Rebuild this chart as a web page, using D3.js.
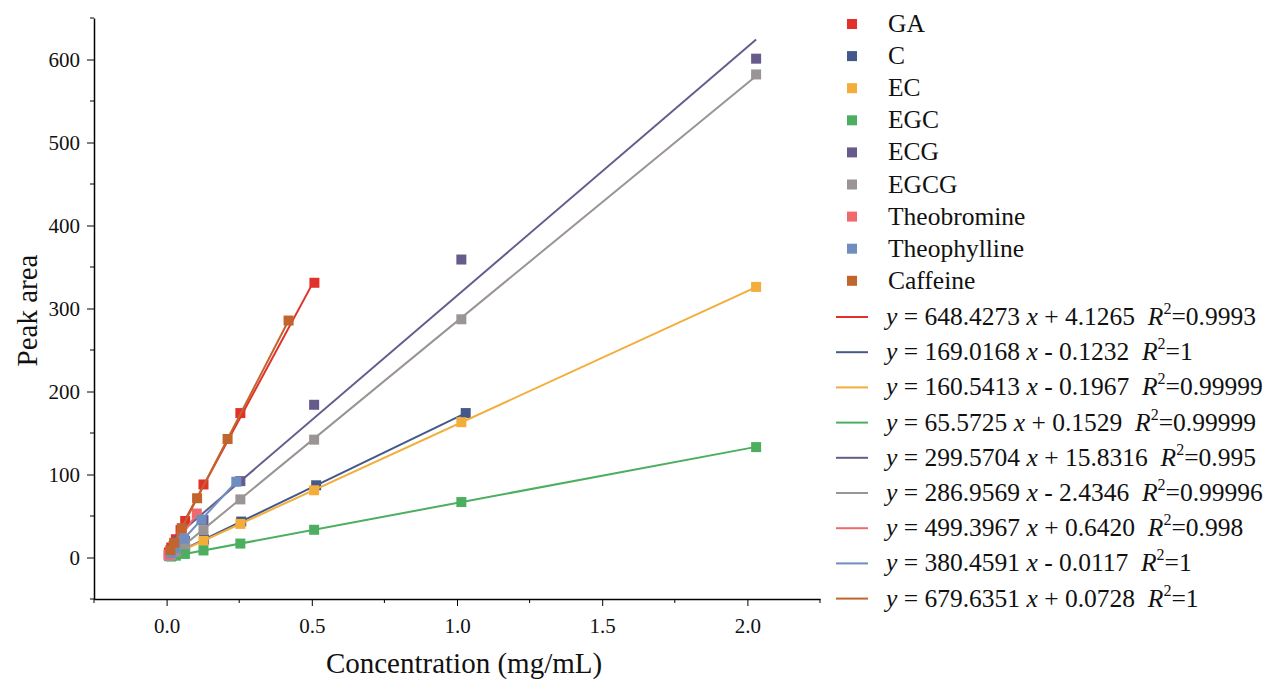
<!DOCTYPE html>
<html>
<head>
<meta charset="utf-8">
<script src="https://cdn.jsdelivr.net/npm/d3@7/dist/d3.min.js"></script>
<style>
  html, body { margin: 0; padding: 0; background: #fff; }
  svg { display: block; }
  text { font-family: "Liberation Serif", "Times New Roman", serif; fill: #111; }
</style>
</head>
<body>
<svg id="chart" width="1269" height="684"></svg>
<script>
// ---- data ----
const seriesNames = ["GA", "C", "EC", "EGC", "ECG", "EGCG", "Theobromine", "Theophylline", "Caffeine"];
const seriesColors = ["#e2302b", "#44598a", "#f2ad3a", "#4caf5f", "#675b8c", "#9b9494", "#ee6a6c", "#6f8ebf", "#c1652c"];

const xGA   = [0.008, 0.016, 0.032, 0.048, 0.064, 0.127, 0.254, 0.509];
const yGA   = [6, 12, 22, 33, 44, 88, 174, 331];
const xC    = [0.016, 0.032, 0.064, 0.129, 0.257, 0.515, 1.03];
const yC    = [2.6, 5.3, 10.7, 21.6, 43.3, 87, 174];
const xEC   = [0.016, 0.032, 0.063, 0.127, 0.254, 0.508, 1.015, 2.03];
const yEC   = [2.4, 5, 10, 20, 40.5, 81, 163, 326];
const xEGC  = [0.016, 0.032, 0.063, 0.127, 0.254, 0.508, 1.015, 2.03];
const yEGC  = [1.2, 2.2, 4.3, 8.5, 16.8, 33.4, 66.8, 133];
const xECG  = [0.008, 0.016, 0.032, 0.063, 0.127, 0.254, 0.508, 1.015, 2.03];
const yECG  = [2, 4, 10, 20, 45, 92, 184, 359, 601];
const xEGCG = [0.008, 0.016, 0.032, 0.063, 0.127, 0.254, 0.508, 1.015, 2.03];
const yEGCG = [1.5, 3, 7, 16, 33, 70, 142, 287, 582];
const xTB   = [0.0065, 0.013, 0.026, 0.052, 0.104];
const yTB   = [3.5, 7, 13.5, 26.5, 53];
const xTP   = [0.015, 0.03, 0.06, 0.12, 0.24];
const yTP   = [5.7, 11.4, 22.8, 45.6, 91.3];
const xCAF  = [0.013, 0.026, 0.052, 0.105, 0.21, 0.42];
const yCAF  = [9, 17.7, 35.4, 71.4, 142.8, 285.5];

const slopes     = [648.4273, 169.0168, 160.5413, 65.5725, 299.5704, 286.9569, 499.3967, 380.4591, 679.6351];
const intercepts = [4.1265, -0.1232, -0.1967, 0.1529, 15.8316, -2.4346, 0.6420, -0.0117, 0.0728];
const slopeText  = ["648.4273", "169.0168", "160.5413", "65.5725", "299.5704", "286.9569", "499.3967", "380.4591", "679.6351"];
const interText  = ["+ 4.1265", "- 0.1232", "- 0.1967", "+ 0.1529", "+ 15.8316", "- 2.4346", "+ 0.6420", "- 0.0117", "+ 0.0728"];
const r2Text     = ["0.9993", "1", "0.99999", "0.99999", "0.995", "0.99996", "0.998", "1", "1"];

const xTicks = [0.0, 0.5, 1.0, 1.5, 2.0];
const yTicks = [0, 100, 200, 300, 400, 500, 600];

const xsAll = [xGA, xC, xEC, xEGC, xECG, xEGCG, xTB, xTP, xCAF];
const ysAll = [yGA, yC, yEC, yEGC, yECG, yEGCG, yTB, yTP, yCAF];

// ---- chart ----
const svg = d3.select("#chart");
const x = d3.scaleLinear().domain([-0.25, 2.25]).range([94, 820]);
const y = d3.scaleLinear().domain([-50, 650]).range([599, 18]);

// axes
const xAxis = d3.axisBottom(x).tickValues(xTicks).tickFormat(d3.format(".1f")).tickSize(7).tickSizeOuter(0).tickPadding(12);
const gx = svg.append("g").attr("transform", `translate(0,${y(-50)})`).call(xAxis);
gx.selectAll(".tick text").attr("font-size", 21).style("font-family", "Liberation Serif");
gx.append("g").selectAll("line").data([-0.25, 0.25, 0.75, 1.25, 1.75, 2.25]).join("line")
  .attr("x1", d => x(d)).attr("x2", d => x(d)).attr("y1", 0).attr("y2", 4).attr("stroke", "#000");

const yAxis = d3.axisLeft(y).tickValues(yTicks).tickSize(7).tickSizeOuter(0).tickPadding(7);
const gy = svg.append("g").attr("transform", `translate(${x(-0.25)},0)`).call(yAxis);
gy.selectAll(".tick text").attr("font-size", 21).style("font-family", "Liberation Serif");
gy.append("g").selectAll("line").data([-50, 50, 150, 250, 350, 450, 550, 650]).join("line")
  .attr("y1", d => y(d)).attr("y2", d => y(d)).attr("x1", 0).attr("x2", -4).attr("stroke", "#000");
svg.selectAll(".domain").attr("stroke", "#000").attr("stroke-width", 1.5);

// titles
svg.append("text").attr("x", (x(-0.25) + x(2.25)) / 2 + 7).attr("y", 673)
  .attr("text-anchor", "middle").attr("font-size", 29).text("Concentration (mg/mL)");
svg.append("text").attr("transform", `translate(37,${y(300) + 2}) rotate(-90)`)
  .attr("text-anchor", "middle").attr("font-size", 29).text("Peak area");

// fit lines and points
const plot = svg.append("g");
const line = d3.line().x(d => x(d[0])).y(d => y(d[1]));
seriesNames.forEach((name, i) => {
  const xs = xsAll[i], ys = ysAll[i];
  const x0 = d3.min(xs), x1 = d3.max(xs);
  plot.append("path")
    .datum([[x0, slopes[i] * x0 + intercepts[i]], [x1, slopes[i] * x1 + intercepts[i]]])
    .attr("d", line).attr("fill", "none").attr("stroke", seriesColors[i]).attr("stroke-width", 2);
  plot.append("g").selectAll("rect").data(xs.map((v, k) => [v, ys[k]])).join("rect")
    .attr("x", d => x(d[0]) - 5).attr("y", d => y(d[1]) - 5)
    .attr("width", 10).attr("height", 10).attr("fill", seriesColors[i]);
});

// legend: markers
const leg = svg.append("g");
seriesNames.forEach((name, i) => {
  const cy = 24 + i * 32.1;
  leg.append("rect").attr("x", 847).attr("y", cy - 5).attr("width", 10).attr("height", 10).attr("fill", seriesColors[i]);
  leg.append("text").attr("x", 888).attr("y", cy + 8).attr("font-size", 25.5).text(name);
});
// legend: fits
seriesNames.forEach((name, i) => {
  const cy = 317 + i * 35.2;
  leg.append("line").attr("x1", 836).attr("x2", 868).attr("y1", cy).attr("y2", cy)
    .attr("stroke", seriesColors[i]).attr("stroke-width", 2);
  const t = leg.append("text").attr("x", 886).attr("y", cy + 8).attr("font-size", 25.5).attr("xml:space", "preserve");
  t.append("tspan").attr("font-style", "italic").text("y");
  t.append("tspan").text(" = " + slopeText[i] + " ");
  t.append("tspan").attr("font-style", "italic").text("x");
  t.append("tspan").text(" " + interText[i] + "  ");
  t.append("tspan").attr("font-style", "italic").text("R");
  t.append("tspan").attr("font-size", 16).attr("dy", -11).text("2");
  t.append("tspan").attr("dy", 11).text("=" + r2Text[i]);
});
</script>
</body>
</html>
